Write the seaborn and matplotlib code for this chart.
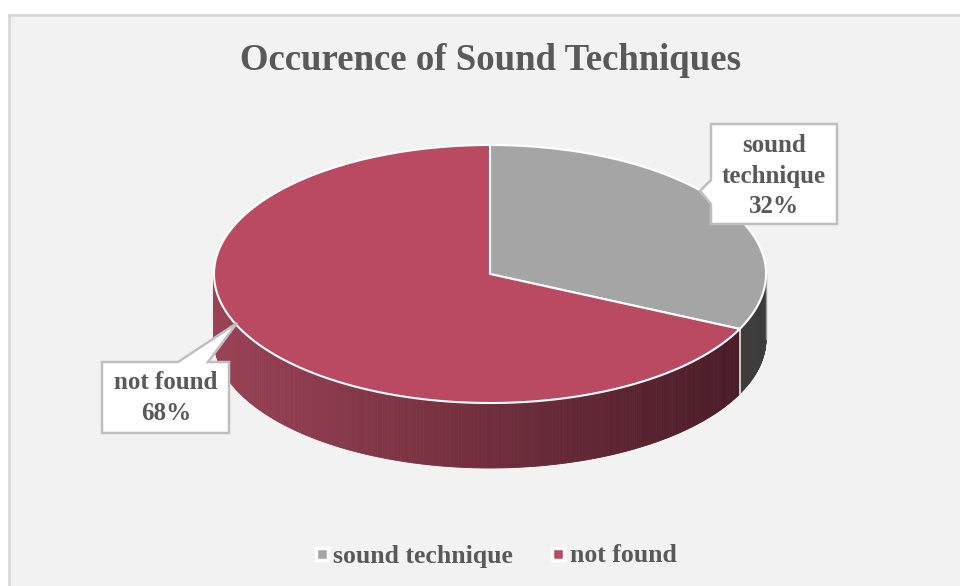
import numpy as np
import matplotlib
matplotlib.use("Agg")
import matplotlib.pyplot as plt
import seaborn as sns
from matplotlib.patches import Polygon, Rectangle
from matplotlib.lines import Line2D
from matplotlib.colors import to_rgb

sns.set_theme(style="white")
plt.rcParams["font.family"] = ["Liberation Serif", "DejaVu Serif"]

# data
categories = ["sound technique", "not found"]
shares = [32, 68]
title = "Occurence of Sound Techniques"

top_colors = ["#a5a5a5", "#b94a62"]
side_light = ["#5e5e5e", "#9a4256"]
side_dark = ["#3c3c3c", "#461a24"]
text_color = "#595959"

W, H = 960, 586
fig = plt.figure(figsize=(W / 100, H / 100), dpi=100)
ax = fig.add_axes([0, 0, 1, 1])
ax.set_xlim(0, W)
ax.set_ylim(H, 0)
ax.axis("off")
fig.patch.set_facecolor("white")

# chart area
ax.add_patch(Rectangle((9, 15), W, H, facecolor="#f2f2f2",
                       edgecolor="#d9d9d9", linewidth=2, zorder=0))

ax.text(491, 61, title, ha="center", va="center", fontsize=26.5,
        fontweight="bold", color=text_color)

# 3D pie geometry (ellipse of the top face + rim depth)
cx, cy, a, b, depth = 490, 274, 276, 129, 65


def pt(theta_deg, dy=0.0):
    t = np.radians(theta_deg)
    return cx + a * np.cos(t), cy - b * np.sin(t) + dy


# slice angles, clockwise from 12 o'clock
total = float(sum(shares))
bounds = []
start = 90.0
for v in shares:
    end = start - 360.0 * v / total
    bounds.append((end, start))
    start = end


def blend(c1, c2, f):
    c1, c2 = np.array(to_rgb(c1)), np.array(to_rgb(c2))
    return tuple(c1 + (c2 - c1) * f)


# rim (front half only: theta in [180, 360])
for i, (lo, hi) in enumerate(bounds):
    lo_n, hi_n = lo % 360, hi % 360
    if hi_n <= lo_n:
        hi_n += 360
    segs = []
    for k in range(-1, 2):
        s0 = max(lo_n + 360 * k, 180)
        s1 = min(hi_n + 360 * k, 360)
        if s1 > s0:
            segs.append((s0, s1))
    for s0, s1 in segs:
        ts = np.arange(s0, s1, 0.5)
        ts = np.append(ts, s1)
        for t0, t1 in zip(ts[:-1], ts[1:]):
            x0, y0 = pt(t0)
            x1, y1 = pt(t1)
            f = ((x0 + x1) / 2 - (cx - a)) / (2 * a)
            col = blend(side_light[i], side_dark[i], f)
            ax.add_patch(Polygon([(x0, y0), (x1, y1), (x1, y1 + depth),
                                  (x0, y0 + depth)], closed=True,
                                 facecolor=col, edgecolor=col,
                                 linewidth=0.6, zorder=2))
        # light seam where slices meet on the rim
        for t in (s0, s1):
            if t not in (180, 360):
                x, y = pt(t)
                ax.plot([x, x], [y, y + depth], color="#d0d0d0",
                        lw=1.2, zorder=3)
# rim ends
x, y = pt(360)
ax.plot([x, x], [y, y + depth], color="#9a9a9a", lw=1.0, zorder=3)

# top face
for i, (lo, hi) in enumerate(bounds):
    ts = np.linspace(lo, hi, 200)
    pts = [pt(t) for t in ts] + [(cx, cy)]
    ax.add_patch(Polygon(pts, closed=True, facecolor=top_colors[i],
                         edgecolor="white", linewidth=1.5, zorder=4,
                         joinstyle="round"))


# callouts
def callout(verts, cxy, lines):
    ax.add_patch(Polygon(verts, closed=True, facecolor="white",
                         edgecolor="#bfbfbf", linewidth=1.8, zorder=6))
    ax.text(cxy[0], cxy[1], lines, ha="center", va="center", fontsize=18,
            fontweight="bold", color=text_color, linespacing=1.4, zorder=7)


callout([(711, 124), (837, 124), (837, 224), (711, 224), (711, 204),
         (700, 191), (711, 180)],
        (774, 176), categories[0].replace(" ", "\n") + f"\n{shares[0]}%")
callout([(102, 362), (178, 362), (237, 323), (208, 362), (229, 362),
         (229, 433), (102, 433)],
        (166, 398), f"{categories[1]}\n{shares[1]}%")

# legend
handles = [Line2D([], [], marker="s", linestyle="none", markersize=8,
                  markerfacecolor=c, markeredgecolor="white",
                  markeredgewidth=2.5) for c in top_colors]
leg = ax.legend(handles, categories, loc="center",
                bbox_to_anchor=(0.5 + 16 / W, 1 - 556 / H),
                bbox_transform=fig.transFigure, ncol=2, frameon=False,
                handlelength=0.5, handletextpad=0.2, columnspacing=1.5,
                prop={"size": 18.5, "weight": "bold"})
for t in leg.get_texts():
    t.set_color(text_color)

fig.savefig("out.png", dpi=100, facecolor="white")
